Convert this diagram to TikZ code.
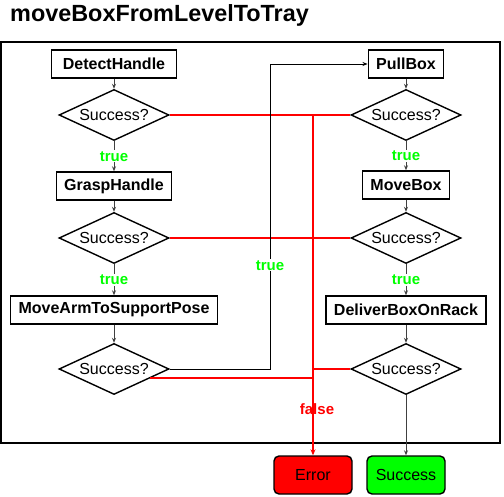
\documentclass[tikz,border=0pt]{standalone}
\usepackage{fontspec}
\setmainfont{Liberation Sans}
\usetikzlibrary{shapes.geometric,arrows.meta}

\definecolor{okgreen}{RGB}{0,255,0}
\definecolor{failred}{RGB}{255,0,0}

\tikzset{
  task/.style={draw, line width=1.4pt, fill=white, inner xsep=8pt, minimum height=28pt,
    font=\fontsize{16}{19}\selectfont\bfseries},
  check/.style={diamond, draw, line width=1.4pt, fill=white, aspect=2.1, inner sep=0pt,
    minimum width=110pt, minimum height=51pt, font=\fontsize{16}{19}\selectfont},
  outcome/.style={draw, line width=1.4pt, rounded corners=5pt, minimum width=78pt,
    minimum height=38pt, font=\fontsize{16}{19}\selectfont},
  flow/.style={draw=black!75, line width=0.8pt, -{Stealth[length=5pt,width=4pt]}},
  fail/.style={draw=failred, line width=1.5pt},
  truelbl/.style={fill=white, text=okgreen, inner sep=1pt, font=\fontsize{15}{18}\selectfont\bfseries},
}

\begin{document}
\begin{tikzpicture}[x=1pt,y=-1pt]
    \useasboundingbox (0,0) rectangle (504,497);

    % title and frame
    \node[anchor=base west, inner sep=0pt, font=\fontsize{23.4}{27}\selectfont\bfseries] (title) at (10,22) {moveBoxFromLevelToTray};
    \draw[line width=1.6pt] (1,42) rectangle (500,443);

    % left column
    \node[task, minimum width=125pt] (dh) at (114,64) {DetectHandle};
    \node[check] (d1) at (114,115) {Success?};
    \node[task] (gh) at (114,186) {GraspHandle};
    \node[check] (d2) at (114,238) {Success?};
    \node[task] (ma) at (114,310) {MoveArmToSupportPose};
    \node[check] (d3) at (114,369) {Success?};

    % right column
    \node[task] (pb) at (406,64) {PullBox};
    \node[check] (r1) at (406,115) {Success?};
    \node[task] (mb) at (406,185) {MoveBox};
    \node[check] (r2) at (406,238) {Success?};
    \node[task] (db) at (406,310) {DeliverBoxOnRack};
    \node[check] (r3) at (406,369) {Success?};

    % end states
    \node[outcome, fill=failred] (err) at (313,475) {Error};
    \node[outcome, fill=okgreen] (ok) at (406,475) {Success};

    % false branches
    \draw[fail] (d1.east) -- (r1.west);
    \draw[fail] (d2.east) -- (r2.west);
    \draw[fail] (r3.west) -- (r3.west -| err.north);
    \draw[fail] (d3.-14) -- (d3.-14 -| err.north);
    \draw[fail, line width=1.8pt, -{Stealth[length=6pt,width=5pt]}] (d1.east -| err.north) -- node[pos=0.865, xshift=4pt, text=failred, font=\fontsize{15}{18}\selectfont\bfseries] {false} (err.north);

    % true branches
    \draw[flow] (dh) -- (d1);
    \draw[flow] (d1) -- node[truelbl] {true} (gh);
    \draw[flow] (gh) -- (d2);
    \draw[flow] (d2) -- node[truelbl] {true} (ma);
    \draw[flow] (ma) -- (d3);
    \coordinate (jump) at (270,369);
    \draw[flow, draw=black] (d3.east) -- (jump) |- node[truelbl, pos=0.17] {true} (pb.west);
    \draw[flow] (pb) -- (r1);
    \draw[flow] (r1) -- node[truelbl] {true} (mb);
    \draw[flow] (mb) -- (r2);
    \draw[flow] (r2) -- node[truelbl] {true} (db);
    \draw[flow] (db) -- (r3);
    \draw[flow] (r3) -- (ok);
\end{tikzpicture}
\end{document}
